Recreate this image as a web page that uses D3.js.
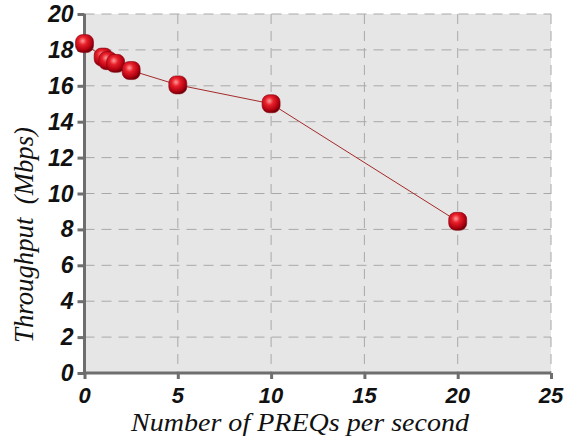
<!DOCTYPE html>
<html>
<head>
<meta charset="utf-8">
<script src="https://cdn.jsdelivr.net/npm/d3@7"></script>
<style>
body { margin:0; background:#fff; }
</style>
</head>
<body>
<svg id="chart"></svg>
<script>
// PREQ rate vs throughput
var preqRates = [0, 1, 1.25, 1.67, 2.5, 5, 10, 20]
var throughput = [18.35, 17.6, 17.4, 17.25, 16.85, 16.05, 15.0, 8.45]
var xTicks = [0, 5, 10, 15, 20, 25]
var yTicks = [0, 2, 4, 6, 8, 10, 12, 14, 16, 18, 20]

var screen = {width:574, height:437}
var margins = {top:14, bottom:64, left:84.5, right:23}
var graph = {
    width: screen.width-margins.left-margins.right,
    height: screen.height-margins.top-margins.bottom
}

var sansFont = "Liberation Sans"
var serifFont = "Liberation Serif"

var svg = d3.select("#chart")
    .attr("width",screen.width)
    .attr("height",screen.height)

var defs = svg.append("defs")
var grad = defs.append("radialGradient")
    .attr("id","ball")
    .attr("cx","40%").attr("cy","35%").attr("r","65%")
grad.append("stop").attr("offset","0%").attr("stop-color","#ff9a9a")
grad.append("stop").attr("offset","35%").attr("stop-color","#e8202a")
grad.append("stop").attr("offset","80%").attr("stop-color","#b00010")
grad.append("stop").attr("offset","100%").attr("stop-color","#700008")

var xScale = d3.scaleLinear().domain([0,25]).range([0,graph.width])
var yScale = d3.scaleLinear().domain([0,20]).range([graph.height,0])

var g = svg.append("g")
    .attr("transform","translate("+margins.left+","+margins.top+")")

g.append("rect")
    .attr("width",graph.width)
    .attr("height",graph.height)
    .attr("fill","#e6e6e6")

// grid
g.selectAll(".hgrid")
    .data(yTicks.slice(1))
    .enter()
    .append("line")
    .attr("x1",0).attr("x2",graph.width)
    .attr("y1",function(d){return yScale(d)})
    .attr("y2",function(d){return yScale(d)})
    .attr("stroke","#a8a8a8")
    .attr("stroke-dasharray","10,7")
g.selectAll(".vgrid")
    .data(xTicks.slice(1))
    .enter()
    .append("line")
    .attr("x1",function(d){return xScale(d)})
    .attr("x2",function(d){return xScale(d)})
    .attr("y1",0).attr("y2",graph.height)
    .attr("stroke","#a8a8a8")
    .attr("stroke-dasharray","10,7")

// axes
var xAxis = d3.axisBottom(xScale).tickValues(xTicks).tickSize(6).tickFormat("")
var yAxis = d3.axisLeft(yScale).tickValues(yTicks).tickSize(7).tickFormat("")

var xg = g.append("g")
    .attr("transform","translate(0,"+graph.height+")")
    .call(xAxis)
var yg = g.append("g").call(yAxis)
xg.selectAll("path, line").attr("stroke","#6e6e6e").attr("stroke-width",3)
yg.selectAll("path, line").attr("stroke","#6e6e6e").attr("stroke-width",3)
xg.select("path").attr("d","M-1.5,0H"+graph.width)
yg.select("path").attr("d","M0,"+(graph.height+1.5)+"V0")

// tick labels
g.selectAll(".xlab")
    .data(xTicks)
    .enter()
    .append("text")
    .attr("font-family",sansFont)
    .attr("font-weight","bold")
    .attr("font-style","italic")
    .attr("font-size",22)
    .attr("fill","#111")
    .attr("text-anchor","middle")
    .attr("x",function(d){return xScale(d)})
    .attr("y",graph.height+30)
    .text(function(d){return d})
g.selectAll(".ylab")
    .data(yTicks)
    .enter()
    .append("text")
    .attr("font-family",sansFont)
    .attr("font-weight","bold")
    .attr("font-style","italic")
    .attr("font-size",23)
    .attr("fill","#111")
    .attr("text-anchor","end")
    .attr("x",-11)
    .attr("y",function(d){return yScale(d)+8})
    .text(function(d){return d})

// line + markers
var points = preqRates.map(function(r,i){return {x:r, y:throughput[i]}})
var lineGenerator = d3.line()
    .x(function(p){return xScale(p.x)})
    .y(function(p){return yScale(p.y)})
g.append("path")
    .datum(points)
    .attr("d",lineGenerator)
    .attr("fill","none")
    .attr("stroke","#a52a2a")
    .attr("stroke-width",1)

g.selectAll(".pt")
    .data(points)
    .enter()
    .append("rect")
    .attr("x",function(p){return xScale(p.x)-9})
    .attr("y",function(p){return yScale(p.y)-9})
    .attr("width",18).attr("height",18)
    .attr("rx",7).attr("ry",7)
    .attr("fill","url(#ball)")
    .attr("stroke","#8a0010")
    .attr("stroke-width",0.6)

// axis titles
svg.append("text")
    .attr("font-family",serifFont)
    .attr("font-style","italic")
    .attr("font-size",26)
    .attr("fill","#111")
    .attr("x",131)
    .attr("y",431)
    .attr("textLength",338)
    .attr("lengthAdjust","spacingAndGlyphs")
    .text("Number of PREQs per second")
svg.append("text")
    .attr("font-family",serifFont)
    .attr("font-style","italic")
    .attr("font-size",27)
    .attr("fill","#111")
    .attr("transform","translate(33,343) rotate(-90)")
    .attr("textLength",216)
    .attr("lengthAdjust","spacingAndGlyphs")
    .text("Throughput\u00a0\u00a0(Mbps)")
</script>
</body>
</html>
